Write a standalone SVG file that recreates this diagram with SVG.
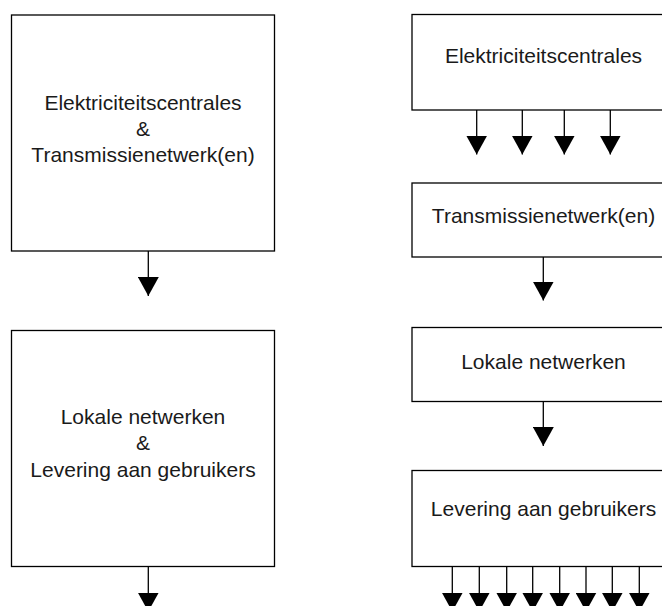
<svg xmlns="http://www.w3.org/2000/svg" width="662" height="606" viewBox="0 0 662 606">
<style>
.box{fill:#fff;stroke:#000;stroke-width:1.3}
.lbl{font-family:"Liberation Sans",Arial,Helvetica,sans-serif;font-size:21px;fill:#1a1a1a;text-anchor:middle}
.con{stroke:#000;stroke-width:1.3;fill:none;marker-end:url(#ah)}
</style>
<defs>
<marker id="ah" markerUnits="userSpaceOnUse" markerWidth="19" markerHeight="21" viewBox="0 0 19 21" refX="19" refY="10.5" orient="auto">
<path d="M0,0 L19,10.5 L0,21 z" fill="#000"/>
</marker>
</defs>
<rect width="662" height="606" fill="#fff"/>
<g id="node-left-top">
<rect class="box" x="11.5" y="15" width="263" height="236"/>
<text class="lbl" x="143" y="110">Elektriciteitscentrales</text>
<text class="lbl" x="143" y="136">&amp;</text>
<text class="lbl" x="143" y="162">Transmissienetwerk(en)</text>
</g>
<g id="node-left-bottom">
<rect class="box" x="11.5" y="330.5" width="263" height="236"/>
<text class="lbl" x="143" y="424">Lokale netwerken</text>
<text class="lbl" x="143" y="450">&amp;</text>
<text class="lbl" x="143" y="477">Levering aan gebruikers</text>
</g>
<g id="node-centrales">
<rect class="box" x="412" y="14.5" width="263" height="95.5"/>
<text class="lbl" x="543.5" y="63">Elektriciteitscentrales</text>
</g>
<g id="node-transmissie">
<rect class="box" x="412" y="183" width="263" height="74"/>
<text class="lbl" x="543.5" y="223">Transmissienetwerk(en)</text>
</g>
<g id="node-lokale">
<rect class="box" x="412" y="327.5" width="263" height="74"/>
<text class="lbl" x="543.5" y="368.5">Lokale netwerken</text>
</g>
<g id="node-levering">
<rect class="box" x="412" y="470.5" width="263" height="96"/>
<text class="lbl" x="543.5" y="516">Levering aan gebruikers</text>
</g>
<g id="connectors">
<line class="con" x1="148.3" y1="251" x2="148.3" y2="296"/>
<line class="con" x1="148.3" y1="566.5" x2="148.3" y2="611.5"/>
<line class="con" x1="476.7" y1="110" x2="476.7" y2="154.5"/>
<line class="con" x1="522.3" y1="110" x2="522.3" y2="154.5"/>
<line class="con" x1="564.3" y1="110" x2="564.3" y2="154.5"/>
<line class="con" x1="610.3" y1="110" x2="610.3" y2="154.5"/>
<line class="con" x1="543.3" y1="257" x2="543.3" y2="300.5"/>
<line class="con" x1="543.3" y1="401.5" x2="543.3" y2="446"/>
<line class="con" x1="452.3" y1="566.5" x2="452.3" y2="611.5"/>
<line class="con" x1="479.3" y1="566.5" x2="479.3" y2="611.5"/>
<line class="con" x1="506.7" y1="566.5" x2="506.7" y2="611.5"/>
<line class="con" x1="532.7" y1="566.5" x2="532.7" y2="611.5"/>
<line class="con" x1="559.7" y1="566.5" x2="559.7" y2="611.5"/>
<line class="con" x1="586" y1="566.5" x2="586" y2="611.5"/>
<line class="con" x1="612.3" y1="566.5" x2="612.3" y2="611.5"/>
<line class="con" x1="639.3" y1="566.5" x2="639.3" y2="611.5"/>
</g>
</svg>
